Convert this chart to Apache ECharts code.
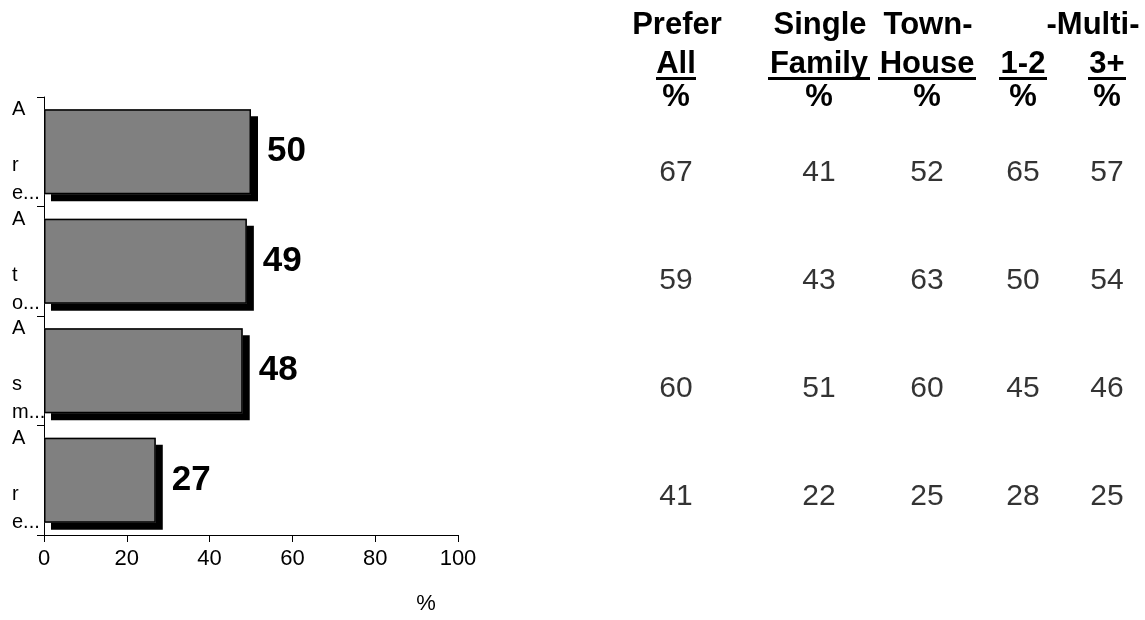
<!DOCTYPE html>
<html>
<head>
<meta charset="utf-8">
<script src="https://cdn.jsdelivr.net/npm/echarts@6/dist/echarts.min.js"></script>
<style>html,body{margin:0;padding:0;background:#fff;}#c{width:1145px;height:620px;}</style>
</head>
<body>
<div id="c"></div>
<script>
// ---- data ----
const categories = ['A re...', 'A to...', 'A sm...', 'A re...'];
const barValues = [50, 49, 48, 27];
const xTicks = [0, 20, 40, 60, 80, 100];
const xAxisName = '%';

const colPreferAll = [67, 59, 60, 41];
const colSingleFamily = [41, 43, 51, 22];
const colTownHouse = [52, 63, 60, 25];
const colMulti12 = [65, 50, 45, 28];
const colMulti3 = [57, 54, 46, 25];

const headerLine1 = ['Prefer', 'Single', 'Town-', '-Multi-'];
const headerLine2 = ['All', 'Family', 'House', '1-2', '3+'];
const headerLine3 = ['%', '%', '%', '%', '%'];

// ---- layout (pixels) ----
const tableCols = [colPreferAll, colSingleFamily, colTownHouse, colMulti12, colMulti3];
const colX = [676, 819, 927, 1023, 1107];
const h1X = [677, 820, 928, 1093];
const ulHalf = [20, 51, 49, 24, 19];

const FONT = '"Liberation Sans", Arial, sans-serif';
const HFONT = 'bold 31px ' + FONT;
const chart = echarts.init(document.getElementById('c'));

const graphics = [];
headerLine1.forEach((t, i) => graphics.push({type: 'text', x: h1X[i], y: 25, style: {text: t, font: HFONT, fill: '#000', textAlign: 'center', textVerticalAlign: 'middle'}}));
headerLine2.forEach((t, i) => {
  graphics.push({type: 'text', x: colX[i], y: 64, style: {text: t, font: HFONT, fill: '#000', textAlign: 'center', textVerticalAlign: 'middle'}});
  graphics.push({type: 'rect', shape: {x: colX[i] - ulHalf[i], y: 77, width: ulHalf[i] * 2, height: 3}, style: {fill: '#000'}});
});
headerLine3.forEach((t, i) => graphics.push({type: 'text', x: colX[i], y: 97, style: {text: t, font: HFONT, fill: '#000', textAlign: 'center', textVerticalAlign: 'middle'}}));

const tableSeries = tableCols.map((col, c) => ({
  type: 'scatter',
  xAxisIndex: 1, yAxisIndex: 1,
  symbolSize: 0,
  silent: true,
  itemStyle: {color: 'rgba(0,0,0,0)'},
  data: col.map((v, r) => [colX[c], r, v]),
  label: {show: true, position: 'inside', formatter: p => String(p.value[2]), color: '#000', textBorderWidth: 0, fontFamily: FONT, fontSize: 30}
}));

chart.setOption({
  animation: false,
  backgroundColor: '#fff',
  grid: [
    {left: 44, top: 97, width: 414, height: 444},
    {left: 0, top: 118.4, width: 1145, height: 432.7}
  ],
  xAxis: [
    {type: 'value', gridIndex: 0, min: xTicks[0], max: xTicks[xTicks.length - 1], interval: 20,
      splitLine: {show: false},
      axisLine: {show: true, lineStyle: {color: '#000', width: 1}},
      axisTick: {show: true, length: 7, lineStyle: {color: '#000'}},
      axisLabel: {color: '#000', fontFamily: FONT, fontSize: 22, margin: 13},
      name: xAxisName, nameLocation: 'middle', nameGap: 58,
      nameTextStyle: {color: '#000', fontFamily: FONT, fontSize: 22, padding: [0, 0, 0, 350]}
    },
    {type: 'value', gridIndex: 1, min: 0, max: 1145, show: false}
  ],
  yAxis: [
    {type: 'category', gridIndex: 0, data: categories, inverse: true,
      axisLine: {show: true, lineStyle: {color: '#000', width: 1}},
      axisTick: {show: true, length: 7, lineStyle: {color: '#000'}},
      axisLabel: {interval: 0, color: '#000', fontFamily: FONT, fontSize: 20, lineHeight: 28, align: 'left', margin: 32,
        formatter: s => (s.match(/.\.\.\.|./g) || []).join('\n')}
    },
    {type: 'category', gridIndex: 1, data: categories.map((c, i) => String(i)), inverse: true, show: false}
  ],
  series: [
    {type: 'bar', xAxisIndex: 0, yAxisIndex: 0, data: barValues, barWidth: 85, silent: true,
      itemStyle: {color: '#808080', borderWidth: 0,
        shadowColor: '#000', shadowBlur: 0, shadowOffsetX: 7, shadowOffsetY: 7}
    },
    {type: 'bar', xAxisIndex: 0, yAxisIndex: 0, data: barValues, barWidth: 85, barGap: '-100%', silent: true,
      itemStyle: {color: 'rgba(0,0,0,0)', borderColor: '#000', borderWidth: 1.5},
      label: {show: true, position: 'right', distance: 16, color: '#000', fontFamily: FONT, fontWeight: 'bold', fontSize: 35}
    }
  ].concat(tableSeries),
  graphic: graphics
});
</script>
</body>
</html>
